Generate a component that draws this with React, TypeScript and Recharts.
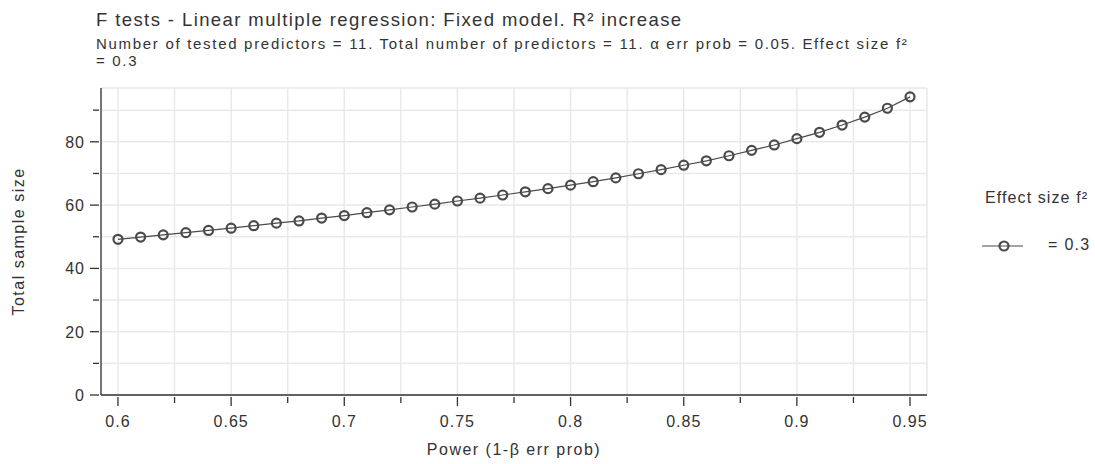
import React from 'react';
import { LineChart, Line, XAxis, YAxis, CartesianGrid, Label } from 'recharts';

// ─── Data ───────────────────────────────────────────────────────────────────

const power = [
  0.6, 0.61, 0.62, 0.63, 0.64, 0.65, 0.66, 0.67, 0.68, 0.69, 0.7, 0.71,
  0.72, 0.73, 0.74, 0.75, 0.76, 0.77, 0.78, 0.79, 0.8, 0.81, 0.82, 0.83,
  0.84, 0.85, 0.86, 0.87, 0.88, 0.89, 0.9, 0.91, 0.92, 0.93, 0.94, 0.95,
];

const sampleSize = [
  49.2, 49.9, 50.6, 51.3, 52.0, 52.7, 53.5, 54.3, 55.0, 55.9, 56.7, 57.6,
  58.5, 59.4, 60.3, 61.3, 62.2, 63.2, 64.2, 65.2, 66.3, 67.4, 68.6, 69.9,
  71.2, 72.6, 74.0, 75.6, 77.3, 79.0, 81.0, 83.0, 85.3, 87.8, 90.6, 94.2,
];

const xTicks = [
  0.6, 0.625, 0.65, 0.675, 0.7, 0.725, 0.75, 0.775, 0.8, 0.825, 0.85, 0.875,
  0.9, 0.925, 0.95,
];
const xLabelTicks = [0.6, 0.65, 0.7, 0.75, 0.8, 0.85, 0.9, 0.95];

const yTicks = [0, 10, 20, 30, 40, 50, 60, 70, 80, 90];
const yLabelTicks = [0, 20, 40, 60, 80];

const TITLE = 'F tests - Linear multiple regression: Fixed model. R² increase';
const SUBTITLE_1 =
  'Number of tested predictors = 11. Total number of predictors = 11. α err prob = 0.05. Effect size f²';
const SUBTITLE_2 = '= 0.3';
const LEGEND_TITLE = 'Effect size f²';
const LEGEND_ITEM = '= 0.3';

// ─── Styles ─────────────────────────────────────────────────────────────────

const FONT = '"Liberation Sans", Arial, sans-serif';
const INK = '#333333';
const LINE = '#4a4a4a';
const GRID = '#e9e9e9';

const chartData = power.map((p, i) => ({ power: p, n: sampleSize[i] }));

const near = (a: number, list: number[]) => list.some((v) => Math.abs(v - a) < 1e-6);

function XTick(props: any) {
  const { x, y, payload } = props;
  const major = near(payload.value, xLabelTicks);
  return (
    <g>
      <line x1={x} x2={x} y1={y} y2={y + (major ? 9 : 6)} stroke={INK} strokeWidth={1.3} />
      {major && (
        <text x={x} y={y + 30} textAnchor="middle" fill={INK} fontSize={16} letterSpacing={1} fontFamily={FONT}>
          {String(payload.value)}
        </text>
      )}
    </g>
  );
}

function YTick(props: any) {
  const { x, y, payload } = props;
  const major = near(payload.value, yLabelTicks);
  return (
    <g>
      <line x1={x - (major ? 9 : 6)} x2={x} y1={y} y2={y} stroke={INK} strokeWidth={1.3} />
      {major && (
        <text x={x - 14} y={y + 6} textAnchor="end" fill={INK} fontSize={16} letterSpacing={1} fontFamily={FONT}>
          {String(payload.value)}
        </text>
      )}
    </g>
  );
}

function Marker(props: any) {
  const { cx, cy } = props;
  if (cx == null || cy == null) return null;
  return <circle cx={cx} cy={cy} r={4.5} fill="none" stroke={LINE} strokeWidth={2.2} />;
}

export default function App() {
  return (
    <div style={{ position: 'absolute', left: 0, top: 0, width: 1095, height: 464, background: '#fff', fontFamily: FONT }}>
      <div style={{ position: 'absolute', left: 96, top: 9, fontSize: 18.5, letterSpacing: 1.4, color: INK, whiteSpace: 'nowrap' }}>
        {TITLE}
      </div>
      <div style={{ position: 'absolute', left: 96, top: 35, fontSize: 15, color: INK, whiteSpace: 'nowrap', letterSpacing: 1.7 }}>
        {SUBTITLE_1}
      </div>
      <div style={{ position: 'absolute', left: 96, top: 52, fontSize: 15, color: INK, whiteSpace: 'nowrap', letterSpacing: 1.7 }}>
        {SUBTITLE_2}
      </div>

      <LineChart
        width={1095}
        height={464}
        data={chartData}
        margin={{ top: 88, right: 168, bottom: 0, left: 41 }}
      >
        <CartesianGrid stroke={GRID} strokeWidth={1.5} />
        <XAxis
          dataKey="power"
          type="number"
          domain={[0.5925, 0.9575]}
          ticks={xTicks}
          tick={<XTick />}
          tickLine={false}
          tickSize={0}
          axisLine={{ stroke: INK, strokeWidth: 1.3 }}
          allowDataOverflow
          height={69}
        >
          <Label
            value="Power (1-β err prob)"
            position="insideBottom"
            offset={9}
            style={{ fill: INK, fontSize: 16, letterSpacing: 1.5, fontFamily: FONT }}
          />
        </XAxis>
        <YAxis
          type="number"
          domain={[0, 97]}
          ticks={yTicks}
          tick={<YTick />}
          tickLine={false}
          tickSize={0}
          axisLine={{ stroke: INK, strokeWidth: 1.3 }}
          allowDataOverflow
          width={60}
        >
          <Label
            value="Total sample size"
            angle={-90}
            position="insideLeft"
            offset={-23}
            style={{ fill: INK, fontSize: 16, letterSpacing: 1.5, fontFamily: FONT, textAnchor: 'middle' }}
          />
        </YAxis>
        <Line
          dataKey="n"
          stroke={LINE}
          strokeWidth={1.2}
          dot={<Marker />}
          activeDot={false}
          isAnimationActive={false}
        />
      </LineChart>

      {/* Legend */}
      <div style={{ position: 'absolute', left: 985, top: 189, fontSize: 16, letterSpacing: 1.1, color: INK, whiteSpace: 'nowrap' }}>
        {LEGEND_TITLE}
      </div>
      <svg style={{ position: 'absolute', left: 980, top: 236 }} width={46} height={20}>
        <line x1={2} x2={43} y1={10} y2={10} stroke={LINE} strokeWidth={1.2} />
        <circle cx={24} cy={10} r={4.5} fill="none" stroke={LINE} strokeWidth={2.2} />
      </svg>
      <div style={{ position: 'absolute', left: 1048, top: 236, fontSize: 16, letterSpacing: 1.3, color: INK, whiteSpace: 'nowrap' }}>
        {LEGEND_ITEM}
      </div>
    </div>
  );
}
